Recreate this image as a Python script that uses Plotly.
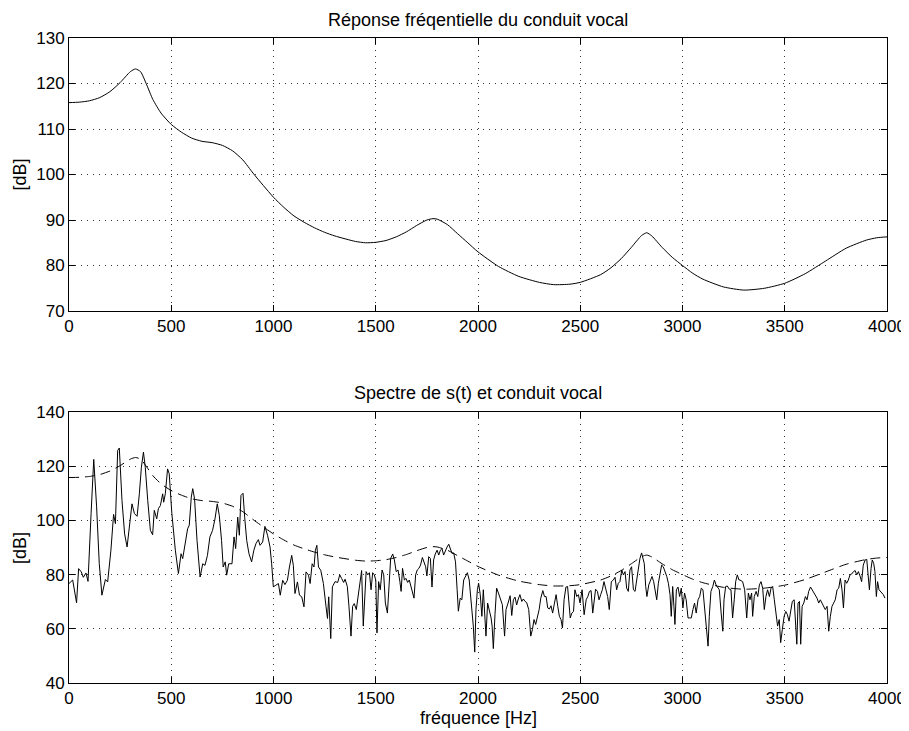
import plotly.graph_objects as go

# ---- vocal tract response (smooth envelope) ----
env_f = [0, 50, 100, 150, 200, 250, 300, 325, 350, 380, 410, 450, 500, 550, 600, 650, 700, 750,
         800, 850, 900, 950, 1000, 1050, 1100, 1150, 1200, 1250, 1300, 1400, 1450, 1500, 1550, 1600,
         1650, 1700, 1750, 1780, 1800, 1850, 1900, 1950, 2000, 2100, 2200, 2300, 2370, 2450,
         2500, 2600, 2650, 2700, 2750, 2800, 2825, 2850, 2900, 2950, 3000, 3050, 3100, 3200,
         3300, 3400, 3500, 3600, 3700, 3800, 3900, 3950, 4000]
env_db = [115.8, 115.9, 116.2, 116.9, 118.2, 120.2, 122.6, 123.2, 122.6, 119.7, 116.5, 113.5,
          111.0, 109.3, 108.0, 107.3, 107.0, 106.4, 105.2, 103.2, 100.3, 97.6, 95.0, 92.8, 90.9,
          89.5, 88.3, 87.3, 86.5, 85.3, 85.0, 85.1, 85.5, 86.3, 87.4, 88.8, 90.0, 90.3, 90.2, 89.0,
          87.0, 85.0, 83.0, 79.8, 77.6, 76.3, 75.8, 75.9, 76.3, 78.0, 79.5, 81.5, 84.0, 86.6,
          87.2, 86.5, 84.0, 81.8, 80.0, 78.3, 77.0, 75.3, 74.6, 75.0, 76.1, 78.2, 81.0, 83.8,
          85.6, 86.1, 86.3]

# ---- spectrum of s(t), read in segments ----
spec_f_a = [0, 18, 37, 47, 60, 70, 83, 93, 108, 121, 135, 148, 161, 178, 189, 205, 218, 227, 238, 246,
            259, 272, 284, 298, 308, 320, 333, 344, 354, 364, 373, 385, 398, 409, 417, 429, 437, 447,
            458, 463, 471, 482, 490, 503, 520, 535, 548, 556, 569, 580, 588, 598, 605, 614, 626, 637]
spec_db_a = [76.7, 78, 69.6, 82.2, 81, 79, 80.6, 77.5, 102.5, 122.5, 105, 84, 72.4, 78.2, 77.3, 89,
             102.2, 98.8, 125.8, 126.7, 107.4, 95, 90.2, 100, 106.1, 102.5, 101.5, 109.8, 119.6, 125.2,
             119.6, 107.4, 96.3, 94.7, 103.7, 100.6, 104.3, 105.5, 109.8, 106.7, 109.8, 119, 117.2,
             102.5, 89, 80.4, 87.7, 85.9, 92.6, 96.9, 98.2, 108.6, 111.7, 108, 92.6, 82.8]

spec_f_b = [641, 654, 665, 677, 689, 702, 714, 725, 735, 746, 754, 764, 771, 781, 797, 807, 815, 825,
            833, 841, 851, 859, 869, 880, 893, 904, 914, 926, 934, 947, 958, 971, 983, 991, 999, 1012,
            1024, 1033, 1045, 1056, 1068, 1078, 1089, 1097, 1105, 1117, 1127, 1138, 1149, 1159, 1171,
            1179, 1189, 1198, 1205, 1212, 1220, 1231, 1244, 1257, 1264, 1270, 1280, 1288]
spec_db_b = [79.1, 84, 83.4, 87.1, 93.9, 96.3, 100.6, 106.1, 101.8, 92.6, 82.8, 84.7, 79.8, 84, 84,
             93.9, 89.6, 101.2, 94.5, 109.2, 110, 101.2, 92.6, 87.7, 84.7, 89, 91.4, 92.9, 90.8, 92,
             97.8, 94.5, 90.2, 84, 75.5, 76.1, 76.7, 72.4, 77.9, 76.3, 77.9, 82.8, 87.1, 83.4, 73,
             77.3, 72.4, 71.8, 68.1, 81, 79.8, 76.7, 84, 82.8, 89, 90.8, 82.8, 81.6, 76.7, 68.1, 63.8,
             71.8, 56.4, 75.5]

spec_f_c = [1301, 1314, 1324, 1333, 1343, 1350, 1361, 1369, 1379, 1387, 1395, 1405, 1415, 1423, 1431,
            1439, 1448, 1453, 1461, 1469, 1477, 1485, 1493, 1500, 1506, 1514, 1522, 1531, 1539, 1547,
            1557, 1565, 1573, 1583, 1591, 1600, 1609, 1618, 1624, 1631, 1640, 1648, 1656, 1664, 1672,
            1680, 1687, 1695, 1703, 1711, 1719, 1728, 1736, 1744, 1750, 1759, 1767, 1775, 1783, 1791,
            1800, 1808, 1816, 1824, 1832, 1840, 1849, 1857, 1865, 1873, 1881, 1890, 1898, 1904, 1913,
            1921, 1930, 1940, 1948, 1957]
spec_db_c = [77.4, 77.1, 79.9, 78.6, 77.1, 78.3, 75.6, 68.3, 57.3, 68.3, 69.3, 67.1, 73.2, 78, 81.5,
             61, 78, 81.1, 79.9, 80.7, 74.4, 80.7, 79.9, 78, 58.5, 77.4, 74.4, 81.7, 79.9, 69.5, 65.8,
             77.4, 86, 87.6, 85.4, 81.1, 81.7, 77.4, 73.8, 82.3, 78, 78.6, 77.1, 78, 75.6, 73.8, 71.3,
             79.9, 81.7, 82.3, 83.5, 86.3, 84.1, 82.9, 79.5, 86.6, 86, 75.4, 85.4, 87.6, 89, 87.2, 89,
             89.6, 87.2, 89, 90.2, 91.2, 89, 87.8, 88, 84.7, 74.4, 66.5, 71.3, 70.7, 78, 79.9, 80.7, 78]

spec_f_d = [1969, 1977, 1984, 1990, 1997, 2003, 2011, 2019, 2026, 2033, 2039, 2047, 2056, 2064, 2069,
            2075, 2083, 2091, 2100, 2108, 2119, 2130, 2137, 2147, 2157, 2165, 2173, 2181, 2189, 2197,
            2205, 2214, 2222, 2230, 2238, 2248, 2258, 2266, 2274, 2282, 2291, 2299, 2307, 2317, 2325,
            2333, 2341, 2349, 2357, 2365, 2374, 2382, 2390, 2398, 2406, 2413, 2421, 2430, 2438, 2444,
            2451, 2459, 2467, 2474, 2483, 2491, 2499, 2509, 2519, 2529, 2537, 2545, 2553, 2561, 2567,
            2575, 2584, 2592, 2600, 2608, 2616, 2625, 2634, 2642]
spec_db_d = [68.3, 61, 51.4, 67.1, 74.4, 76.8, 72.6, 64.6, 74.4, 67.1, 57.3, 69.5, 67.1, 64, 61, 52.7,
             65.2, 75, 73.2, 71.3, 68.9, 57.3, 67.1, 69.5, 72.2, 64.9, 70.7, 71.7, 68.8, 71, 72.6, 70.1,
             71, 70.1, 69.7, 67.1, 57.3, 59.7, 63.4, 61.6, 64.6, 67.1, 71.3, 74.1, 71.9, 71.9, 67.7,
             67.3, 68.5, 65.8, 69.5, 72.6, 68.3, 64.6, 63.4, 60.3, 70.7, 75.4, 75.6, 70.7, 64, 65.8,
             66.4, 74.4, 71.9, 72.6, 69.5, 74.4, 65.2, 70.7, 71.9, 73.8, 74.1, 65.8, 70.7, 74.6, 73.8,
             70.7, 72.6, 74.4, 77.4, 75, 71.9, 67.1]

spec_f_e = [2652, 2662, 2670, 2678, 2686, 2694, 2703, 2711, 2719, 2727, 2735, 2743, 2751, 2760, 2768,
            2776, 2784, 2792, 2800, 2807, 2813, 2820, 2826, 2835, 2843, 2851, 2859, 2866, 2874, 2882,
            2890, 2898, 2906, 2915, 2923, 2931, 2939, 2945, 2952, 2958, 2963, 2970, 2978, 2986, 2994,
            3002, 3010, 3018, 3027, 3035, 3043, 3051, 3059, 3067, 3076, 3084, 3092, 3100, 3108, 3116,
            3125, 3131, 3139, 3148, 3156, 3164, 3172, 3180, 3189, 3197, 3203, 3211, 3219, 3229, 3237,
            3245, 3253, 3260, 3268, 3276]
spec_db_e = [77.4, 78, 79, 74.4, 76.8, 77.4, 81.7, 79.9, 81.1, 75, 73.8, 81.7, 82.9, 74.4, 73.8, 78,
             82.9, 86, 88, 85.4, 84.1, 75.6, 71.9, 76.2, 78, 79.3, 77.4, 74.4, 70.7, 76.8, 81.1, 83.5,
             82.9, 81.1, 79.3, 76.8, 72.6, 64.6, 75.6, 68.3, 61.6, 74.4, 75.4, 71.9, 75, 67.7, 73.2,
             70.7, 64, 64, 64, 67.1, 69.5, 65.8, 70.7, 71.9, 75, 74.4, 68.3, 60.3, 53.6, 64.6, 73.8,
             75.6, 78, 76.2, 75, 74.4, 65.8, 59.1, 70.7, 75.6, 75.8, 74.6, 74.4, 64, 70.7, 77.4, 79.9, 78]

spec_f_f = [3281, 3294, 3304, 3314, 3322, 3330, 3338, 3343, 3351, 3360, 3368, 3376, 3384, 3392, 3400,
            3408, 3416, 3425, 3433, 3441, 3449, 3457, 3465, 3473, 3480, 3488, 3497, 3505, 3513, 3521,
            3529, 3537, 3546, 3552, 3559, 3565, 3572, 3578, 3585, 3593, 3601, 3609, 3617, 3626, 3634,
            3642, 3650, 3658, 3666, 3674, 3682, 3690, 3698, 3707, 3715, 3723, 3731, 3739, 3747, 3756,
            3764, 3772, 3780, 3787, 3795, 3803, 3811, 3819, 3827, 3836, 3844, 3852, 3860, 3868, 3876,
            3884, 3893, 3901, 3909, 3914, 3922, 3928, 3935, 3941, 3948, 3954, 3961, 3967, 3974, 3982,
            3990]
spec_db_f = [78, 77.4, 74.4, 64, 73.2, 70.7, 73.2, 64.6, 71.9, 73.8, 71.9, 76.2, 77.4, 75, 67.1, 71.9,
             74.4, 71.9, 75, 75.6, 70.7, 64.6, 61, 63.4, 54.9, 59.7, 64.6, 66.4, 65.2, 62.8, 67.1, 70.1,
             70.7, 61, 54.3, 69.5, 70.1, 54.3, 68.3, 69.5, 71.9, 70.7, 73.8, 75.4, 74.4, 73.2, 71.9,
             71.3, 69.5, 70.7, 69.5, 68.3, 67.1, 68.3, 59.1, 64.6, 68.3, 69.5, 70.7, 74.4, 75, 78.6,
             74.4, 67.7, 78, 76.8, 78, 79.9, 80.2, 81.1, 81.5, 79.9, 81.1, 79.5, 77.4, 83.5, 85.4, 85.6,
             77.4, 74.4, 82.3, 85.4, 84.1, 81.1, 71.9, 77.4, 74.4, 73.8, 73.2, 72.6, 71.3]

spec_f = spec_f_a + spec_f_b + spec_f_c + spec_f_d + spec_f_e + spec_f_f
spec_db = spec_db_a + spec_db_b + spec_db_c + spec_db_d + spec_db_e + spec_db_f

# ---- text ----
title_top = "Réponse fréqentielle du conduit vocal"
title_bottom = "Spectre de s(t) et conduit vocal"
xlabel = "fréquence [Hz]"
ylabel = "[dB]"
x_ticks = [0, 500, 1000, 1500, 2000, 2500, 3000, 3500, 4000]
y_ticks_top = [70, 80, 90, 100, 110, 120, 130]
y_ticks_bottom = [40, 60, 80, 100, 120, 140]

FONT = "Liberation Sans, Arial, Helvetica, sans-serif"
FS = 17
FS_TITLE = 18

fig = go.Figure()
fig.add_trace(go.Scatter(x=env_f, y=env_db, mode="lines", xaxis="x", yaxis="y",
                         line=dict(color="black", width=1, shape="spline", smoothing=0.6),
                         showlegend=False, hoverinfo="skip"))
fig.add_trace(go.Scatter(x=spec_f, y=spec_db, mode="lines", xaxis="x2", yaxis="y2",
                         line=dict(color="black", width=1), showlegend=False, hoverinfo="skip"))
fig.add_trace(go.Scatter(x=env_f, y=env_db, mode="lines", xaxis="x2", yaxis="y2",
                         line=dict(color="black", width=1, dash="10px,6px", shape="spline", smoothing=0.6),
                         showlegend=False, hoverinfo="skip"))

common = dict(showline=True, linecolor="black", linewidth=1, mirror="ticks",
              ticks="inside", ticklen=6, tickcolor="black", tickwidth=1,
              showgrid=True, gridcolor="#333333", griddash="1px,5px", gridwidth=1,
              zeroline=False, automargin=False,
              tickfont=dict(family=FONT, size=FS, color="black"))

# the page body adds an 8px offset, so the figure is 8px smaller on each axis
fig.update_layout(
    width=901, height=723,
    margin=dict(l=61, r=22, t=30, b=48, autoexpand=False),
    paper_bgcolor="white", plot_bgcolor="white",
    font=dict(family=FONT, size=FS, color="black"),
    xaxis=dict(common, domain=[0, 1], range=[0, 4000], tickvals=x_ticks, anchor="y"),
    yaxis=dict(common, domain=[0.5767, 1], range=[70, 130], tickvals=y_ticks_top, anchor="x"),
    xaxis2=dict(common, domain=[0, 1], range=[0, 4000], tickvals=x_ticks, anchor="y2"),
    yaxis2=dict(common, domain=[0, 0.4202], range=[40, 140], tickvals=y_ticks_bottom, anchor="x2"),
    annotations=[
        dict(text=title_top, xref="paper", yref="paper", x=0.5, y=1.0279, showarrow=False,
             xanchor="center", yanchor="middle", font=dict(family=FONT, size=FS_TITLE)),
        dict(text=title_bottom, xref="paper", yref="paper", x=0.5, y=0.4496, showarrow=False,
             xanchor="center", yanchor="middle", font=dict(family=FONT, size=FS_TITLE)),
        dict(text=xlabel, xref="paper", yref="paper", x=0.5, y=-0.0543, showarrow=False,
             xanchor="center", yanchor="middle", font=dict(family=FONT, size=FS_TITLE),
             borderpad=0),
        dict(text=ylabel, xref="paper", yref="paper", x=-0.0599, y=0.7884, showarrow=False,
             textangle=-90, xanchor="center", yanchor="middle", font=dict(family=FONT, size=FS_TITLE),
             borderpad=0),
        dict(text=ylabel, xref="paper", yref="paper", x=-0.0599, y=0.2093, showarrow=False,
             textangle=-90, xanchor="center", yanchor="middle", font=dict(family=FONT, size=FS_TITLE),
             borderpad=0),
    ],
)

fig.write_html("out.html")
